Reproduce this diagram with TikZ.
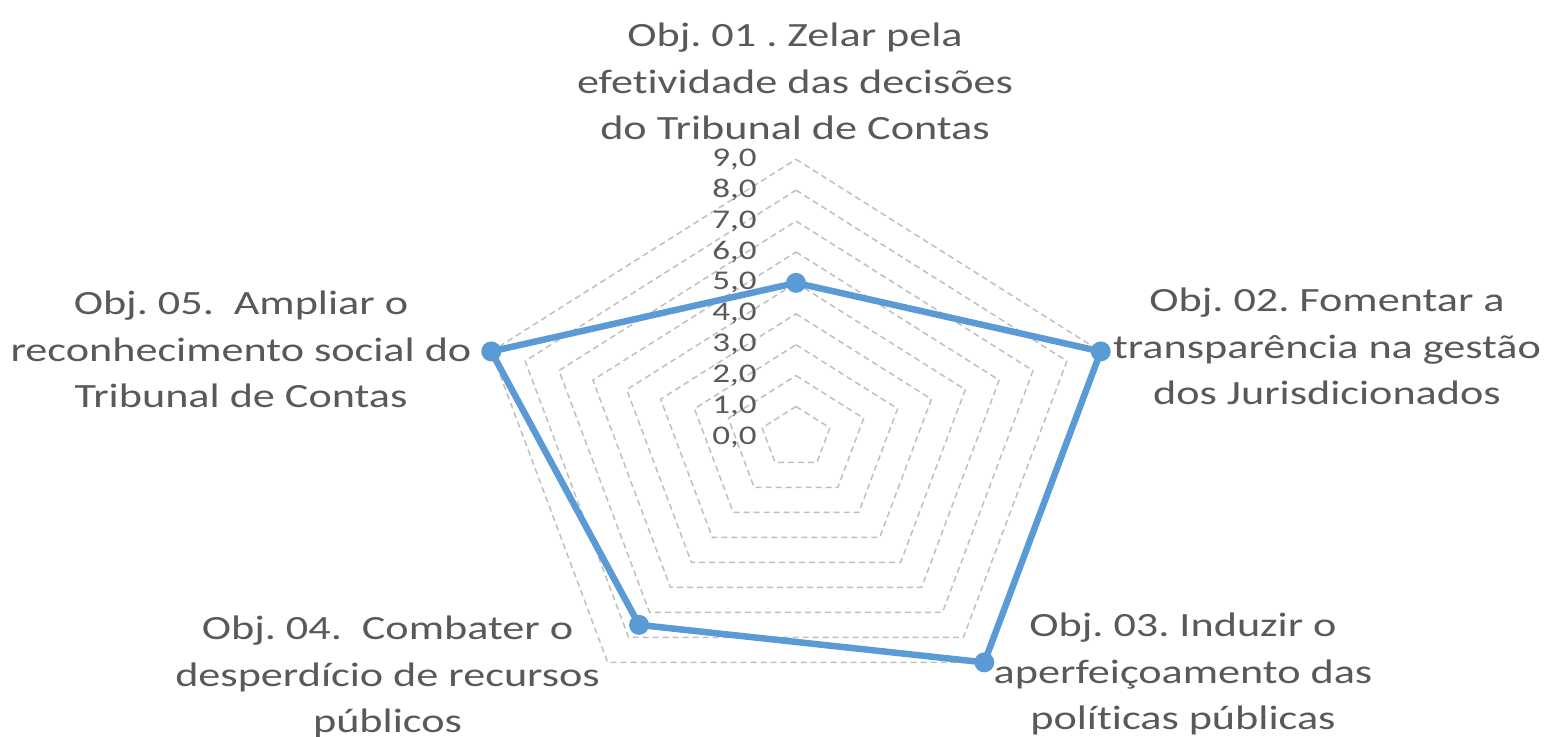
\documentclass[tikz,border=0pt]{standalone}
\usepackage{fontspec}
\setmainfont{Carlito}[FakeStretch=1.3,Ligatures=NoCommon]
\definecolor{txtgray}{HTML}{595959}
\definecolor{gridgray}{HTML}{BFBFBF}
\definecolor{serieblue}{HTML}{5B9BD5}
\frenchspacing
\begin{document}
\begin{tikzpicture}[line cap=round,line join=round,x=0.5pt,y=0.5pt,
  grid/.style={draw=gridgray,line width=0.75pt,dash pattern=on 3pt off 2pt,line cap=butt},
  dataline/.style={draw=serieblue,line width=3.25pt},
  marker/.style={circle,fill=serieblue,inner sep=0pt,minimum size=10pt},
  ticklbl/.style={text=txtgray,font=\fontsize{13.5}{16}\selectfont,anchor=east,inner sep=0pt},
  objlbl/.style={text=txtgray,font=\fontsize{17}{23.25}\selectfont,align=center,anchor=base,inner sep=0pt}]
\useasboundingbox (0,0) rectangle (1546,737);
\begin{scope}[shift={(796,299.6)},x=17.8pt,y=15.45pt]
% grid pentagons
\foreach \k in {1,...,9}
  \draw[grid] (90:\k) -- (18:\k) -- (-54:\k) -- (-126:\k) -- (162:\k) -- cycle;
\foreach \k in {0,...,9}
  \node[ticklbl] (t\k) at ([xshift=-19.5pt]90:\k) {\k,0};
% series
\node[marker] (o1) at (90:5) {};
\node[marker] (o2) at (18:9) {};
\node[marker] (o3) at (-54:9) {};
\node[marker] (o4) at (-126:7.5) {};
\node[marker] (o5) at (162:9) {};
\draw[dataline] (o1.center) -- (o2.center) -- (o3.center) -- (o4.center) -- (o5.center) -- cycle;
\end{scope}
% labels (anchor at last line)
\node[objlbl] (l1) at (795,597) {Obj. 01 . Zelar pela\\efetividade das decisões\\do Tribunal de Contas};
\node[objlbl] (l2) at (1327,332) {Obj. 02. Fomentar a\\transparência na gestão\\dos Jurisdicionados};
\node[objlbl] (l3) at (1183,7) {Obj. 03. Induzir o\\aperfeiçoamento das\\políticas públicas};
\node[objlbl] (l4) at (387.5,4) {Obj. 04.\ \ Combater o\\desperdício de recursos\\públicos};
\node[objlbl] (l5) at (241,329) {Obj. 05.\ \ Ampliar o\\reconhecimento social do\\Tribunal de Contas};
\end{tikzpicture}
\end{document}
